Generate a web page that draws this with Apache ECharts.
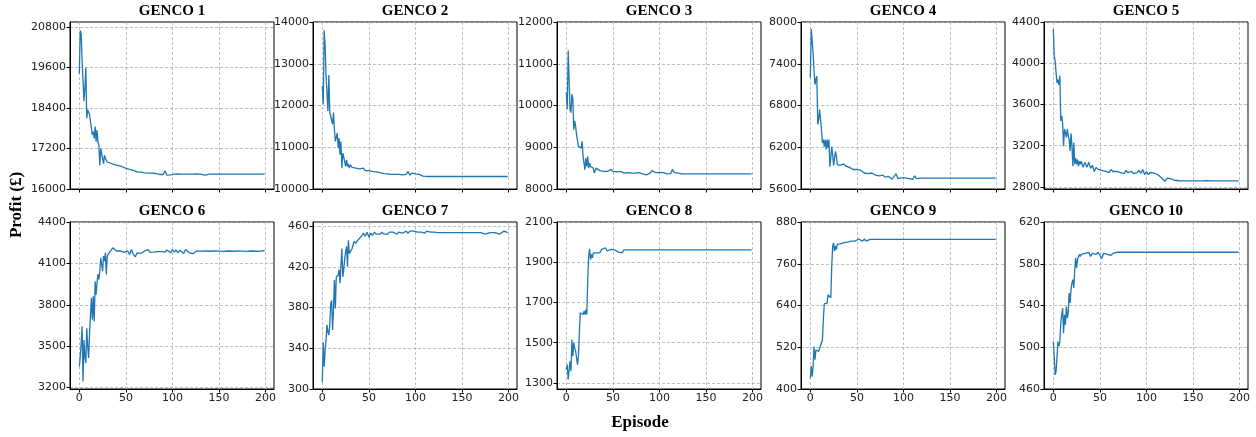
<!DOCTYPE html>
<html>
<head>
<meta charset="utf-8">
<script src="https://cdn.jsdelivr.net/npm/echarts@6/dist/echarts.min.js"></script>
<style>
html,body{margin:0;padding:0;background:#fff;}
#chart{width:1256px;height:437px;}
</style>
</head>
<body>
<div id="chart"></div>
<script>
// Episodes sampled (dense during learning, sparser once converged)
const episodes = [
  0,1,2,3,4,5,6,7,8,9,10,11,12,13,14,15,16,17,18,19,20,21,22,23,24,25,26,27,28,29,
  30,32,34,36,38,40,42,44,46,48,50,52,54,56,58,60,62,64,66,68,
  70,72,74,76,78,80,82,84,86,88,90,92,94,96,98,100,102,104,106,108,
  110,112,114,116,118,120,122,124,126,128,
  130,135,140,145,150,155,160,165,170,175,180,185,190,195,199
];

const titles = ['GENCO 1','GENCO 2','GENCO 3','GENCO 4','GENCO 5','GENCO 6','GENCO 7','GENCO 8','GENCO 9','GENCO 10'];

const genco1 = [
  19420,20700,20600,19800,19200,18600,19000,19600,18100,18350,
  18350,18200,18000,17800,17600,17700,17500,17850,17400,17750,
  17400,17300,16700,17200,17250,16900,16750,17000,16900,16850,
  16800,16780,16760,16740,16720,16700,16690,16680,16660,16700,
  16610,16620,16580,16560,16550,16520,16510,16530,16500,16490,
  16480,16490,16470,16460,16470,16450,16460,16440,16430,16420,
  16430,16540,16410,16400,16420,16410,16440,16440,16445,16440,
  16440,16445,16440,16440,16442,16440,16440,16440,16445,16440,
  16440,16410,16440,16440,16440,16440,16440,16440,16440,16440,16440,16440,16440,16440,16440
];
const genco2 = [
  12470,12030,13800,13440,12710,12310,11870,12730,11830,11750,
  11790,11550,11830,11420,11140,11180,11340,10980,11220,10820,
  11140,10500,10860,10820,10660,10540,10700,10540,10600,10500,
  10580,10520,10550,10500,10520,10480,10460,10500,10440,10460,
  10440,10400,10420,10390,10410,10380,10390,10380,10370,10380,
  10360,10370,10350,10360,10350,10340,10350,10310,10340,10330,
  10350,10420,10330,10380,10350,10360,10340,10350,10360,10310,
  10300,10300,10300,10300,10300,10300,10300,10300,10300,10300,
  10300,10300,10300,10300,10300,10300,10300,10300,10300,10300,10300,10300,10300,10300,10300
];
const genco3 = [
  10310,9910,11320,10630,9910,9830,10270,10150,9420,9630,
  9500,9300,9260,9020,8980,9060,8980,9140,8780,8740,
  8460,8740,8540,8780,8500,8620,8540,8580,8540,8500,
  8380,8500,8460,8440,8440,8420,8440,8420,8400,8470,
  8420,8400,8410,8390,8420,8400,8380,8410,8390,8380,
  8380,8400,8380,8370,8390,8370,8360,8350,8340,8370,
  8380,8440,8400,8390,8410,8400,8370,8390,8380,8360,
  8380,8370,8470,8390,8370,8380,8360,8360,8360,8360,
  8360,8360,8360,8360,8360,8360,8360,8360,8360,8360,8360,8360,8360,8360,8360
];
const genco4 = [
  7200,7900,7880,7550,7300,7100,7180,7220,6530,6600,
  6740,6600,6450,6260,6310,6210,6310,6170,6310,6190,
  6310,5920,6050,6210,6090,5940,5920,6140,6070,5950,
  5960,5940,5950,5960,5930,5950,5910,5930,5880,5900,
  5880,5860,5870,5850,5830,5850,5820,5840,5830,5820,
  5800,5820,5790,5780,5800,5770,5760,5780,5760,5740,
  5760,5820,5750,5740,5760,5750,5760,5740,5750,5760,
  5740,5790,5750,5760,5755,5755,5755,5755,5755,5755,
  5755,5755,5755,5755,5755,5755,5755,5755,5755,5755,5755,5755,5755,5755,5755
];
const genco5 = [
  4330,4070,4020,3900,3810,3840,3790,3880,3440,3490,
  3420,3195,3360,3330,3280,3360,3300,3260,3150,3320,
  3200,3000,3230,3020,3080,3020,3065,3000,3050,3020,
  3050,2990,3040,2990,3040,2980,3010,2950,2990,2970,
  2980,2960,2970,2950,2960,2940,2970,2950,2960,2950,
  2960,2940,2950,2930,2960,2940,2930,2950,2930,2940,
  2940,2960,2930,2970,2920,2950,2920,2940,2930,2935,
  2930,2920,2905,2890,2880,2855,2885,2870,2880,2870,
  2865,2860,2858,2858,2858,2858,2858,2860,2858,2858,2858,2858,2858,2858,2858
];
const genco6 = [
  3353,3425,3520,3645,3245,3545,3425,3377,3630,3500,
  3415,3595,3607,3850,3692,3862,3680,3970,3874,3960,
  4020,3983,4044,4140,4092,4044,4153,4116,4177,4020,
  4153,4177,4190,4213,4200,4190,4177,4190,4200,4180,
  4172,4190,4165,4200,4165,4147,4177,4190,4172,4177,
  4190,4177,4200,4180,4190,4182,4190,4185,4190,4186,
  4190,4182,4197,4190,4177,4200,4182,4197,4177,4196,
  4182,4172,4200,4205,4177,4165,4170,4182,4190,4190,
  4189,4190,4188,4190,4189,4187,4190,4188,4191,4189,4187,4190,4188,4190,4192
];
const genco7 = [
  307,346,322,338,348,363,356,353,363,384,
  387,358,378,407,379,410,410,412,417,404,
  422,438,410,417,428,428,440,420,446,433,
  432,438,445,443,446,448,450,453,450,454,
  449,453,451,454,452,453,452,454,452,453,
  452,454,453,454,453,452,454,455,453,454,
  455,453,455,454,455,454,454,454,454,455,
  453,455,456,454,455,454,454,453.5,453.5,453.5,
  453.5,453.5,453.5,453.5,453.5,453.5,453.5,453.5,453.5,452,453.5,453.5,452,455,453.5
];
const genco8 = [
  1366,1391,1317,1308,1408,1358,1516,1433,1500,1474,
  1458,1449,1391,1433,1549,1649,1640,1649,1640,1657,
  1640,1665,1640,1815,1931,1967,1914,1939,1922,1947,
  1939,1947,1956,1947,1964,1955,1972,1956,1950,1964,
  1956,1961,1956,1950,1956,1947,1961,1956,1961,1961,
  1961,1961,1961,1961,1961,1961,1961,1961,1961,1961,
  1961,1961,1961,1961,1961,1961,1961,1961,1961,1961,
  1961,1961,1961,1961,1961,1961,1961,1961,1961,1961,
  1961,1961,1961,1961,1961,1961,1961,1961,1961,1961,1961,1961,1961,1961,1961
];
const genco9 = [
  431,466,436,464,522,484,512,508,512,508,
  517,515,522,541,599,645,640,642,647,671,
  671,676,662,753,811,820,796,811,801,816,
  815,817,820,821,822,822,827,825,830,825,
  830,831,827,825,831,825,822,830,830,830,
  830,830,830,830,830,830,830,830,830,830,
  830,830,830,830,830,830,830,830,830,830,
  830,830,830,830,830,830,830,830,830,830,
  830,830,830,830,830,830,830,830,830,830,830,830,830,830,830
];
const genco10 = [
  505.5,491,473.5,477,491,505.5,501,505.5,523,531,
  537.6,513.5,531,521.5,539,528,532.8,552,542.4,555,
  561.6,564.8,556.8,574.5,585.7,576,584,585.7,589,587,
  589,590,590,589,591,587,590,591,589,591,
  591,585,590,591,589,590,588,590,591,591,
  591,591,591,591,591,591,591,591,591,591,
  591,591,591,591,591,591,591,591,591,591,
  591,591,591,591,591,591,591,591,591,591,
  591,591,591,591,591,591,591,591,591,591,591,591,591,591,591
];

const xTicks = [0, 50, 100, 150, 200];
const yTicks = [
  [16000,17200,18400,19600,20800],
  [10000,11000,12000,13000,14000],
  [8000,9000,10000,11000,12000],
  [5600,6200,6800,7400,8000],
  [2800,3200,3600,4000,4400],
  [3200,3500,3800,4100,4400],
  [300,340,380,420,460],
  [1300,1500,1700,1900,2100],
  [400,520,640,760,880],
  [460,500,540,580,620]
];
const yRange = [
  [16000,20950],[10000,14000],[8000,12000],[5600,8000],[2780,4400],
  [3190,4400],[300,464],[1270,2100],[400,880],[460,620]
];

const allSeries = [genco1,genco2,genco3,genco4,genco5,genco6,genco7,genco8,genco9,genco10];

const lefts = [70, 313, 557, 801, 1044];
const W = 204, H = 167, tops = [22, 222];

const grids = [], xAxes = [], yAxes = [], series = [], titleList = [];
const gridLine = {show:true, lineStyle:{color:'#b0b0b0', width:0.8, type:[3,2]}};
const tickFont = {fontFamily:'DejaVu Sans', fontSize:11, color:'#222', formatter: v => String(v)};

for (let k = 0; k < 10; k++) {
  const r = Math.floor(k / 5), c = k % 5;
  grids.push({left: lefts[c], top: tops[r], width: W, height: H, show: true,
    borderColor: '#000', borderWidth: 1, backgroundColor: 'transparent', containLabel: false});
  xAxes.push({type:'value', gridIndex:k, min:-10, max:209,
    axisLine:{show:true, onZero:false, lineStyle:{color:'#000', width:1}},
    axisTick:{show:true, length:3.5, lineStyle:{color:'#000'}, customValues: xTicks},
    axisLabel:{show: r === 1, margin:4, customValues: xTicks, ...tickFont},
    splitLine: gridLine});
  yAxes.push({type:'value', gridIndex:k, min:yRange[k][0], max:yRange[k][1],
    axisLine:{show:true, onZero:false, lineStyle:{color:'#000', width:1}},
    axisTick:{show:true, length:3.5, lineStyle:{color:'#000'}, customValues: yTicks[k]},
    axisLabel:{show:true, margin:4, customValues: yTicks[k], ...tickFont},
    splitLine: gridLine});
  series.push({type:'line', xAxisIndex:k, yAxisIndex:k, showSymbol:false, symbol:'none',
    lineStyle:{color:'#1f77b4', width:1.3}, itemStyle:{color:'#1f77b4'},
    data: episodes.map((e, i) => [e, allSeries[k][i]]), animation:false});
  titleList.push({text: titles[k], left: lefts[c] + W / 2, top: 4 + r * 200, textAlign:'center', padding:0,
    textStyle:{fontFamily:'Liberation Serif', fontWeight:'bold', fontSize:15, color:'#000'}});
}

const chart = echarts.init(document.getElementById('chart'), null, {renderer:'canvas'});
chart.setOption({
  animation:false,
  backgroundColor:'#fff',
  title: titleList,
  grid: grids,
  xAxis: xAxes,
  yAxis: yAxes,
  series: series,
  graphic: [
    {type:'text', x:17, y:205, rotation:Math.PI/2,
      style:{text:'Profit (£)', font:'bold 17px "Liberation Serif"', fill:'#000', align:'center', verticalAlign:'middle'}},
    {type:'text', x:640, y:423,
      style:{text:'Episode', font:'bold 17px "Liberation Serif"', fill:'#000', align:'center', verticalAlign:'middle'}}
  ]
});
</script>
</body>
</html>
